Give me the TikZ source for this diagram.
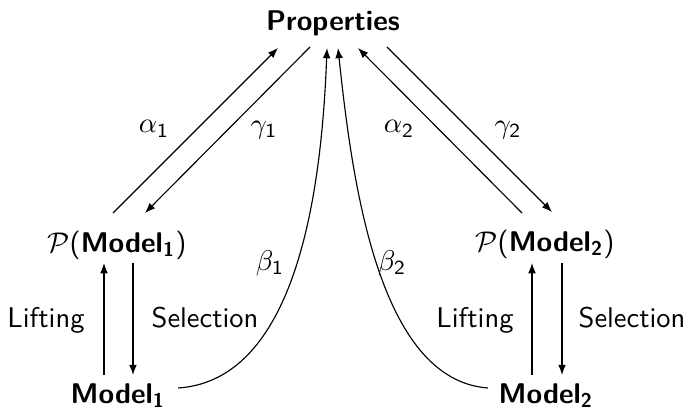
\documentclass[tikz,border=0pt]{standalone}
\usepackage{amsmath}
\usetikzlibrary{calc,arrows.meta}
\begin{document}
\begin{tikzpicture}[x=0.351pt,y=-0.351pt,
  lbl/.style={font=\sffamily, inner sep=0pt},
  obj/.style={font=\sffamily, inner sep=0pt, anchor=base},
  arr/.style={-{Latex[length=3.6pt,width=2.7pt]}, line width=0.4pt}]
\useasboundingbox (0,0) rectangle (690,411);
\node[obj] (prop) at (333,31) {\textbf{Properties}};
\node[obj] (p1) at (117,252) {$\mathcal{P}$(\textbf{Model}$_{\textsf{\textbf{1}}}$)};
\node[obj] (m1) at (118,403) {\textbf{Model}$_{\textsf{\textbf{1}}}$};
\node[obj] (p2) at (545,251) {$\mathcal{P}$(\textbf{Model}$_{\textsf{\textbf{2}}}$)};
\node[obj] (m2) at (546,403) {\textbf{Model}$_{\textsf{\textbf{2}}}$};
% diagonal arrows
\draw[arr] ($(p1.base)+(-4,-39)$) -- ($(prop.base)+(-55,17)$);
\draw[arr] ($(prop.base)+(-23,16)$) -- ($(p1.base)+(28,-39)$);
\draw[arr] ($(p2.base)+(-23,-38)$) -- ($(prop.base)+(25,17)$);
\draw[arr] ($(prop.base)+(54,16)$) -- ($(p2.base)+(7,-39)$);
% vertical arrows
\draw[arr] ($(m1.base)+(-14,-28)$) -- ($(p1.base)+(-13,11)$);
\draw[arr] ($(p1.base)+(16,11)$) -- ($(m1.base)+(15,-28)$);
\draw[arr] ($(m2.base)+(-14,-28)$) -- ($(p2.base)+(-13,12)$);
\draw[arr] ($(p2.base)+(17,12)$) -- ($(m2.base)+(16,-28)$);
% curved arrows
\draw[arr] ($(m1.base)+(60,-15)$) .. controls +(122,-8) and +(-5,132) .. ($(prop.base)+(-6,17)$);
\draw[arr] ($(m2.base)+(-58,-15)$) .. controls +(-110,-8) and +(14,132) .. ($(prop.base)+(5,17)$);
% labels
\node[lbl] (a1) at (154,129) {$\alpha_{\mathsf{1}}$};
\node[lbl] (g1) at (264,130) {$\gamma_{\mathsf{1}}$};
\node[lbl] (a2) at (399,129) {$\alpha_{\mathsf{2}}$};
\node[lbl] (g2) at (508,130) {$\gamma_{\mathsf{2}}$};
\node[lbl] (b1) at (270,263) {$\beta_{\mathsf{1}}$};
\node[lbl] (b2) at (392,263) {$\beta_{\mathsf{2}}$};
\node[obj] (l1) at (46,327) {Lifting};
\node[obj] (s1) at (205,327) {Selection};
\node[obj] (l2) at (475,327) {Lifting};
\node[obj] (s2) at (632,327) {Selection};
\end{tikzpicture}
\end{document}
